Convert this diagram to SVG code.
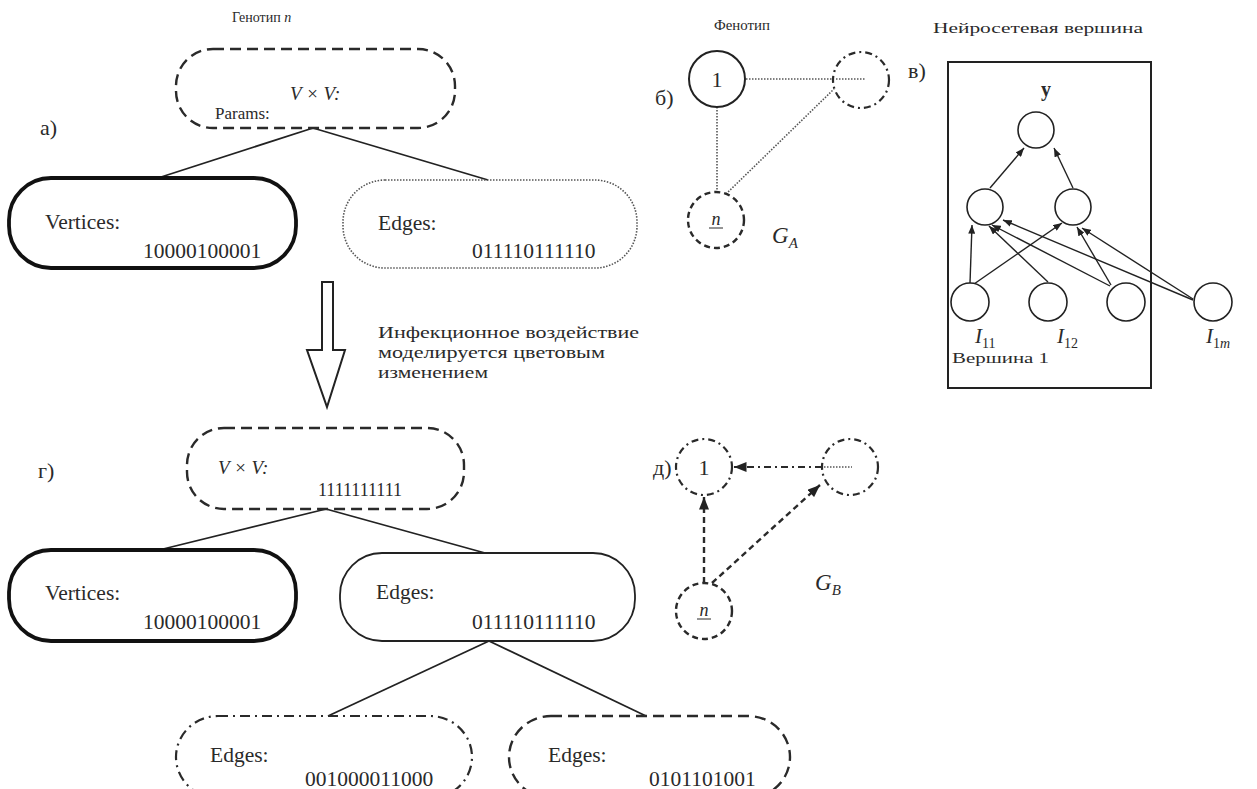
<svg xmlns="http://www.w3.org/2000/svg" width="1257" height="789" viewBox="0 0 1257 789">
<defs>
<style>
.t{font-family:"Liberation Serif","DejaVu Serif","Times New Roman",serif;fill:#2a2a2a}
.c{font-family:"Liberation Serif","DejaVu Serif",serif;fill:#2a2a2a}
.lbl{font-size:22px}
.cap{font-size:14px}
.nt{font-size:21.5px}
.mi{font-style:italic}
.ln{stroke:#222;stroke-width:1.8;fill:none}
.dash{stroke:#2a2a2a;stroke-width:2.4;fill:none;stroke-dasharray:11 6}
.dotted{stroke:#555;stroke-width:1.6;fill:none;stroke-dasharray:1.5 1.5}
.dashdot{stroke:#2a2a2a;stroke-width:2.2;fill:none;stroke-dasharray:10 5 2 5}
.thick{stroke:#111;stroke-width:3.8;fill:none}
.solid{stroke:#222;stroke-width:1.8;fill:none}
.cdash{stroke:#2a2a2a;stroke-width:2.4;fill:none;stroke-dasharray:6 4}
.cdd{stroke:#2a2a2a;stroke-width:2.2;fill:none;stroke-dasharray:7 4 2 4}
.nn{stroke:#222;stroke-width:1.6;fill:#fff}
.na{stroke:#222;stroke-width:1.4;fill:none;marker-end:url(#ah)}
</style>
<marker id="ah" viewBox="0 0 10 8" refX="10" refY="4" markerWidth="9" markerHeight="7" markerUnits="userSpaceOnUse" orient="auto"><path d="M0,0 L10,4 L0,8 z" fill="#222"/></marker>
<marker id="ahb" viewBox="0 0 10 8" refX="10" refY="4" markerWidth="13" markerHeight="10" markerUnits="userSpaceOnUse" orient="auto"><path d="M0,0 L10,4 L0,8 z" fill="#222"/></marker>
</defs>
<rect width="1257" height="789" fill="#fff"/>

<g id="connectors">
<path class="ln" d="M313,128 L158,178"/>
<path class="ln" d="M313,128 L488,180"/>
<path class="ln" d="M326,509 L155,551"/>
<path class="ln" d="M326,509 L485,553"/>
<path class="ln" d="M489,641 L328,716"/>
<path class="ln" d="M489,641 L646,716"/>
<path class="dotted" d="M746,79 L833,79"/>
<path class="dotted" d="M717,107 L717,192"/>
<path class="dotted" d="M726,194 L834,89"/>
<path class="cdd" d="M822,467 L734,467" marker-end="url(#ahb)"/>
<path class="cdash" d="M704,583 L704,497" marker-end="url(#ahb)"/>
<path class="cdash" d="M712,583 L820,485" marker-end="url(#ahb)"/>
<polygon points="322,282 333,282 333,350 345,350 327,407 307,350 322,350" fill="#fff" stroke="#222" stroke-width="2"/>
</g>

<g id="label-a"><text class="c lbl" x="40" y="135">а)</text></g>
<g id="genotype-title"><text class="c cap" x="232" y="22">Генотип <tspan class="mi">n</tspan></text></g>
<g id="node-a-vv">
<rect class="dash" x="176" y="49" width="279" height="79" rx="37"/>
<text class="t mi" x="290" y="100" font-size="19">V × V:</text>
<text class="t" x="215" y="119" font-size="17">Params:</text>
</g>
<g id="node-a-vertices">
<rect class="thick" x="9" y="178" width="287" height="90" rx="42"/>
<text class="t nt" x="45" y="229">Vertices:</text>
<text class="t nt" x="143" y="258">10000100001</text>
</g>
<g id="node-a-edges">
<rect class="dotted" x="343" y="180" width="294" height="88" rx="42"/>
<text class="t nt" x="378" y="230">Edges:</text>
<text class="t nt" x="472" y="258">011110111110</text>
</g>

<g id="infection-text">
<text class="c" font-size="16" x="378" y="338" textLength="261" lengthAdjust="spacingAndGlyphs">Инфекционное воздействие</text>
<text class="c" font-size="16" x="378" y="358" textLength="227" lengthAdjust="spacingAndGlyphs">моделируется цветовым</text>
<text class="c" font-size="16" x="378" y="378" textLength="110" lengthAdjust="spacingAndGlyphs">изменением</text>
</g>

<g id="label-g"><text class="c lbl" x="38" y="478">г)</text></g>
<g id="node-g-vv">
<rect class="dash" x="187" y="428" width="277" height="81" rx="37"/>
<text class="t mi" x="218" y="474" font-size="19">V × V:</text>
<text class="t" x="318" y="496" font-size="18">1111111111</text>
</g>
<g id="node-g-vertices">
<rect class="thick" x="9" y="550" width="287" height="91" rx="42"/>
<text class="t nt" x="45" y="600">Vertices:</text>
<text class="t nt" x="143" y="629">10000100001</text>
</g>
<g id="node-g-edges">
<rect class="solid" x="340" y="553" width="295" height="88" rx="42"/>
<text class="t nt" x="376" y="599">Edges:</text>
<text class="t nt" x="472" y="629">011110111110</text>
</g>
<g id="node-g-edges1">
<rect class="dashdot" x="176" y="716" width="296" height="82" rx="42"/>
<text class="t nt" x="210" y="762">Edges:</text>
<text class="t nt" x="305" y="786">001000011000</text>
</g>
<g id="node-g-edges2">
<rect class="dash" x="509" y="716" width="281" height="82" rx="42"/>
<text class="t nt" x="548" y="762">Edges:</text>
<text class="t nt" x="649" y="786">0101101001</text>
</g>

<g id="phenotype">
<text class="c cap" x="714" y="30" textLength="56" lengthAdjust="spacingAndGlyphs">Фенотип</text>
<text class="c lbl" x="655" y="105">б)</text>
</g>
<g id="pA-1"><circle cx="717" cy="79" r="28" fill="none" stroke="#222" stroke-width="2"/><text class="t" x="717" y="87" font-size="22" text-anchor="middle">1</text></g>
<g id="pA-dots"><circle class="cdd" cx="861" cy="80" r="28"/><path class="dotted" d="M836,79 L866,79"/></g>
<g id="pA-n"><circle class="cdash" cx="716" cy="220" r="28"/><text class="t mi" x="716" y="225" font-size="18" text-anchor="middle">n</text><path d="M709,228 L723,228" stroke="#2a2a2a" stroke-width="1"/></g>
<g id="GA"><text class="t mi" x="772" y="243" font-size="23">G<tspan font-size="15" dy="5">A</tspan></text></g>

<g id="neural">
<text class="c" font-size="15" x="933" y="33" textLength="210" lengthAdjust="spacingAndGlyphs">Нейросетевая вершина</text>
<text class="c lbl" x="908" y="78">в)</text>
<rect x="948" y="62" width="203" height="326" fill="none" stroke="#222" stroke-width="2"/>
<text class="t" x="1041" y="96" font-size="20" font-weight="bold">y</text>
<path class="na" d="M990,188 L1024,148"/>
<path class="na" d="M1073,188 L1054,148"/>
<path class="na" d="M970,283 L972,225"/>
<path class="na" d="M974,284 L1062,223"/>
<path class="na" d="M1048,282 L989,226"/>
<path class="na" d="M1110,286 L992,225"/>
<path class="na" d="M1111,285 L1077,227"/>
<path class="na" d="M1193,300 L1003,220"/>
<path class="na" d="M1193,299 L1082,228"/>
<circle class="nn" cx="1036" cy="130" r="18"/>
<circle class="nn" cx="985" cy="207" r="18"/>
<circle class="nn" cx="1073" cy="207" r="18"/>
<circle class="nn" cx="970" cy="302" r="19"/>
<circle class="nn" cx="1048" cy="302" r="19"/>
<circle class="nn" cx="1126" cy="302" r="19"/>
<circle class="nn" cx="1213" cy="302" r="19"/>
<text class="t mi" x="975" y="343" font-size="21">I<tspan font-style="normal" font-size="14" dy="5">11</tspan></text>
<text class="t mi" x="1057" y="343" font-size="21">I<tspan font-style="normal" font-size="14" dy="5">12</tspan></text>
<text class="t mi" x="1206" y="343" font-size="21">I<tspan font-size="14" dy="5"><tspan font-style="normal">1</tspan>m</tspan></text>
<text class="c" font-size="14" x="952" y="363" textLength="97" lengthAdjust="spacingAndGlyphs">Вершина 1</text>
</g>

<g id="label-d"><text class="c lbl" x="653" y="475">д)</text></g>
<g id="pB-1"><circle class="cdd" cx="704" cy="467" r="28"/><text class="t" x="704" y="475" font-size="22" text-anchor="middle">1</text></g>
<g id="pB-dots"><circle class="cdd" cx="850" cy="467" r="28"/><path class="dotted" d="M824,467 L852,467"/></g>
<g id="pB-n"><circle class="cdash" cx="704" cy="611" r="28"/><text class="t mi" x="704" y="616" font-size="18" text-anchor="middle">n</text><path d="M697,619 L711,619" stroke="#2a2a2a" stroke-width="1"/></g>
<g id="GB"><text class="t mi" x="815" y="590" font-size="23">G<tspan font-size="15" dy="5">B</tspan></text></g>
</svg>
